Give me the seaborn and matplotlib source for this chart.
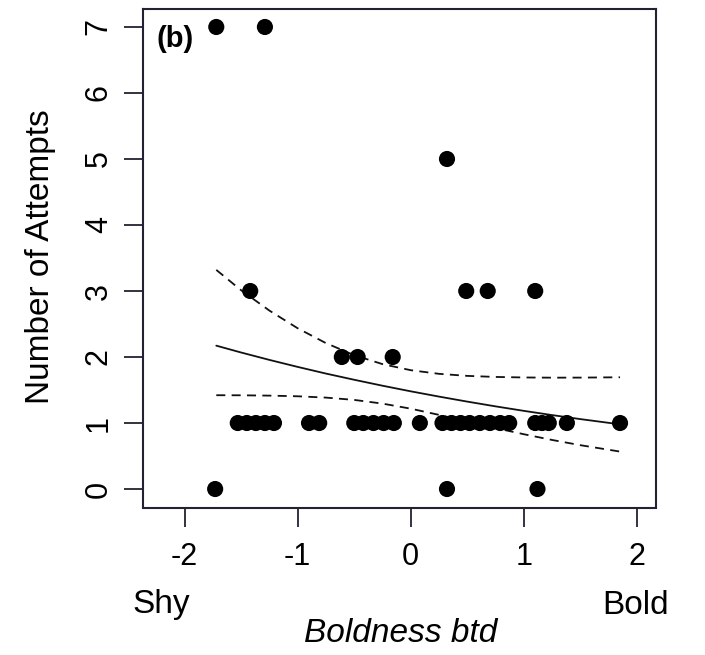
import numpy as np
import pandas as pd
import matplotlib
matplotlib.use("Agg")
import matplotlib.pyplot as plt
import seaborn as sns

# ---- data ----
boldness = [-1.72, -1.29,
            0.32,
            -1.42, 0.49, 0.68, 1.10,
            -0.61, -0.47, -0.16,
            -1.53, -1.45, -1.37, -1.29, -1.21, -0.90, -0.81,
            -0.50, -0.42, -0.33, -0.24, -0.15, 0.08,
            0.28, 0.36, 0.44, 0.52, 0.61, 0.70, 0.79, 0.87,
            1.10, 1.16, 1.22, 1.38, 1.85,
            -1.73, 0.32, 1.12]
attempts = [7, 7,
            5,
            3, 3, 3, 3,
            2, 2, 2,
            1, 1, 1, 1, 1, 1, 1,
            1, 1, 1, 1, 1, 1,
            1, 1, 1, 1, 1, 1, 1, 1,
            1, 1, 1, 1, 1,
            0, 0, 0]

fit_x = [-1.72, -1.5, -1.25, -1.0, -0.75, -0.5, -0.25, 0.0, 0.25, 0.5, 0.75, 1.0, 1.25, 1.5, 1.85]
fit_y = [2.172, 2.068, 1.956, 1.850, 1.749, 1.655, 1.565, 1.480, 1.400, 1.324, 1.252, 1.184, 1.120, 1.059, 0.980]
ci_upper = [3.320, 3.011, 2.703, 2.435, 2.210, 2.028, 1.892, 1.800, 1.745, 1.714, 1.698, 1.690, 1.687, 1.688, 1.693]
ci_lower = [1.421, 1.420, 1.415, 1.405, 1.385, 1.350, 1.294, 1.217, 1.123, 1.022, 0.923, 0.830, 0.743, 0.664, 0.567]

x_ticks = [-2, -1, 0, 1, 2]
y_ticks = [0, 1, 2, 3, 4, 5, 6, 7]

pts = pd.DataFrame({"Boldness": boldness, "Attempts": attempts})
fit = pd.DataFrame({"x": fit_x, "fit": fit_y, "upper": ci_upper, "lower": ci_lower})

sns.set_style("ticks")
plt.rcParams["font.family"] = ["Liberation Sans", "DejaVu Sans"]
plt.rcParams["text.color"] = "black"
plt.rcParams["xtick.color"] = "#222233"
plt.rcParams["ytick.color"] = "#222233"
plt.rcParams["xtick.labelcolor"] = "black"
plt.rcParams["ytick.labelcolor"] = "black"

W, H = 705, 655
fig = plt.figure(figsize=(W / 100, H / 100), dpi=100)
ax = fig.add_axes([143 / W, 1 - 507.5 / H, (656 - 143) / W, (507.5 - 8.5) / H])

sns.lineplot(data=fit, x="x", y="fit", ax=ax, color="#111111", lw=1.3, sort=False)
sns.lineplot(data=fit, x="x", y="upper", ax=ax, color="#111111", lw=1.3, sort=False,
             linestyle=(0, (5, 3.5)))
sns.lineplot(data=fit, x="x", y="lower", ax=ax, color="#111111", lw=1.3, sort=False,
             linestyle=(0, (5, 3.5)))
sns.scatterplot(data=pts, x="Boldness", y="Attempts", ax=ax, color="black",
                s=135, edgecolor="none", zorder=3)

ax.set_xlim(-2.368, 2.168)
ax.set_ylim(-0.28, 7.28)
ax.set_xticks(x_ticks)
ax.set_yticks(y_ticks)
ax.set_xticklabels([str(v) for v in x_ticks], fontsize=22)
ax.set_yticklabels([str(v) for v in y_ticks], fontsize=22, rotation=90, va="center")
ax.tick_params(axis="both", length=14, width=1.3)
ax.tick_params(axis="x", pad=11)
ax.tick_params(axis="y", pad=7)
for sp in ax.spines.values():
    sp.set_visible(True)
    sp.set_linewidth(1.5)
    sp.set_color("#222233")

ax.set_xlabel("")
ax.set_ylabel("")

fig.text(41 / W, 1 - 257 / H, "Number of Attempts", fontsize=24, rotation=90,
         ha="center", va="center")

ax.text(0.027, 0.967, "(b)", transform=ax.transAxes, fontsize=21, fontweight="bold",
        ha="left", va="top")

fig.text(161 / W, 1 - 605 / H, "Shy", fontsize=24, ha="center", va="center")
fig.text(636 / W, 1 - 605 / H, "Bold", fontsize=24, ha="center", va="center")
fig.text(401 / W, 1 - 634 / H, "Boldness btd", fontsize=24, style="italic",
         ha="center", va="center")

fig.savefig("out.png", dpi=100)
